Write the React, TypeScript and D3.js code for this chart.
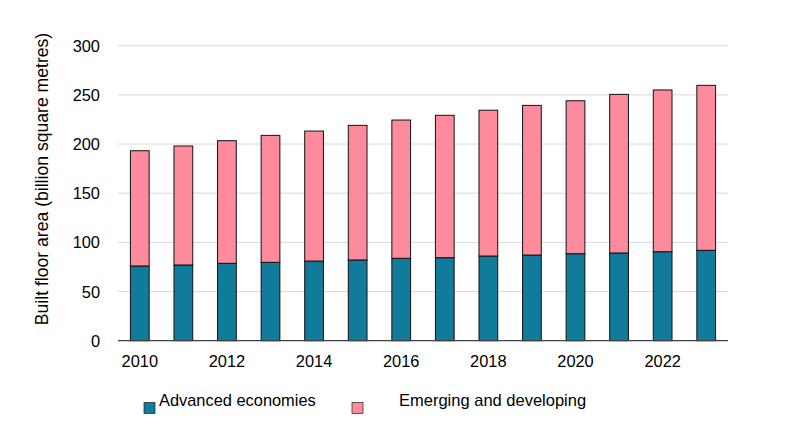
import * as d3 from 'd3';

const years = [2010, 2011, 2012, 2013, 2014, 2015, 2016, 2017, 2018, 2019, 2020, 2021, 2022, 2023];
const advanced = [76, 77, 78.7, 79.7, 81, 82.1, 83.8, 84.4, 86.1, 87.1, 88.5, 89.2, 90.5, 91.9];
const emerging = [117.2, 121, 124.7, 129.1, 132.2, 136.9, 140.6, 144.8, 148.3, 152.2, 155.5, 161.3, 164.5, 167.8];
const yTicks = [0, 50, 100, 150, 200, 250, 300];
const xTickYears = [2010, 2012, 2014, 2016, 2018, 2020, 2022];

const seriesNames = ['Advanced economies', 'Emerging and developing'];
const colors = ['#117b9c', '#fd8b9c'];

const width = 788;
const height = 447;
const font = 'Liberation Sans, Arial, sans-serif';

export default function App() {
  const x = d3
    .scaleBand<number>()
    .domain(years)
    .range([118, 728])
    .paddingInner(0.57)
    .paddingOuter(0.285);
  const y = d3.scaleLinear().domain([0, 300]).range([340.7, 45.7]);

  const rows = years.map((yr, i) => ({ year: yr, advanced: advanced[i], emerging: emerging[i] }));
  const stack = d3.stack<any>().keys(['advanced', 'emerging'])(rows);

  return (
    <svg
      width={width}
      height={height}
      style={{ position: 'absolute', left: 0, top: 0, background: '#fff' }}
      fontFamily={font}
    >
      {yTicks.map(t => (
        <g key={t}>
          {t > 0 && (
            <line x1={118} x2={728} y1={y(t)} y2={y(t)} stroke="#d9d9d9" strokeWidth={1} />
          )}
          <text x={100} y={y(t)} textAnchor="end" dominantBaseline="central" fontSize={16.4} fill="#000">
            {t}
          </text>
        </g>
      ))}

      {stack.map((s, si) => (
        <g key={si}>
          {s.map((d, i) => (
            <rect
              key={i}
              x={x(years[i])}
              y={y(d[1])}
              width={x.bandwidth()}
              height={y(d[0]) - y(d[1])}
              fill={colors[si]}
              stroke="#111"
              strokeWidth={1}
            />
          ))}
        </g>
      ))}

      <line x1={118} x2={728} y1={y(0)} y2={y(0)} stroke="#404040" strokeWidth={1.2} />

      {xTickYears.map(yr => (
        <text
          key={yr}
          x={(x(yr) as number) + x.bandwidth() / 2}
          y={366.5}
          textAnchor="middle"
          fontSize={16.4}
          fill="#000"
        >
          {yr}
        </text>
      ))}

      <text
        transform={`translate(47.5,179) rotate(-90)`}
        textAnchor="middle"
        fontSize={17.6}
        fill="#000"
      >
        Built floor area (billion square metres)
      </text>

      <g>
        <rect x={144} y={402.5} width={11} height={11} fill={colors[0]} stroke="#222" strokeWidth={0.7} />
        <text x={159} y={405.5} fontSize={16.4} fill="#000">
          {seriesNames[0]}
        </text>
        <rect x={352} y={402.5} width={11} height={11} fill={colors[1]} stroke="#222" strokeWidth={0.7} />
        <text x={399} y={405.5} fontSize={16.5} fill="#000">
          {seriesNames[1]}
        </text>
      </g>
    </svg>
  );
}
